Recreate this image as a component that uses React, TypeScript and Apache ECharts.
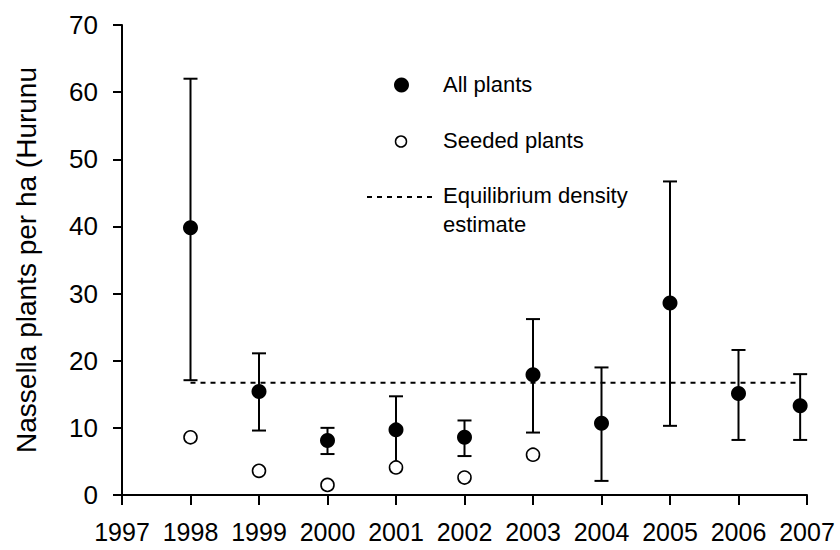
import React, { useEffect, useRef } from "react";
import * as echarts from "echarts";

const years = [1998, 1999, 2000, 2001, 2002, 2003, 2004, 2005, 2006, 2006.9];
const allPlants = [39.8, 15.4, 8.1, 9.7, 8.6, 17.9, 10.7, 28.6, 15.1, 13.3];
const allLower = [17.1, 9.6, 6.1, 4.1, 5.8, 9.3, 2.1, 10.3, 8.2, 8.2];
const allUpper = [62.0, 21.1, 10.0, 14.7, 11.1, 26.2, 19.0, 46.7, 21.6, 18.0];
const seededYears = [1998, 1999, 2000, 2001, 2002, 2003];
const seededPlants = [8.6, 3.6, 1.5, 4.1, 2.6, 6.0];
const equilibrium = 16.7;
const equilibriumRange = [1998, 2006.9];
const legendLabels = ["All plants", "Seeded plants", "Equilibrium density\nestimate"];
const yTitle = "Nassella plants per ha (Hurunu";

const FONT = "Arial, 'Liberation Sans', Helvetica, sans-serif";

export default function App() {
  const ref = useRef<HTMLDivElement>(null);
  useEffect(() => {
    document.body.style.margin = "0";
    const chart = echarts.init(ref.current!, undefined, { renderer: "svg" });
    chart.setOption({
      animation: false,
      backgroundColor: "#fff",
      grid: { left: 122, top: 25, right: 33, bottom: 55, containLabel: false, outerBoundsMode: "none" },
      xAxis: {
        type: "value",
        min: 1997,
        max: 2007,
        interval: 1,
        splitLine: { show: false },
        axisLine: { show: true, lineStyle: { color: "#000", width: 2 } },
        axisTick: { show: true, inside: false, length: 10, lineStyle: { color: "#000", width: 2 } },
        axisLabel: {
          color: "#000",
          fontSize: 25,
          fontFamily: FONT,
          margin: 24,
          hideOverlap: false,
          formatter: (v: number) => String(v),
        },
      },
      yAxis: {
        type: "value",
        min: 0,
        max: 70,
        interval: 10,
        splitLine: { show: false },
        axisLine: { show: true, lineStyle: { color: "#000", width: 2 } },
        axisTick: { show: true, inside: false, length: 9, lineStyle: { color: "#000", width: 2 } },
        axisLabel: { color: "#000", fontSize: 26, fontFamily: FONT, margin: 24 },
        name: yTitle,
        nameLocation: "middle",
        nameGap: 82,
        nameTextStyle: { color: "#000", fontSize: 28, fontFamily: FONT },
      },
      series: [
        {
          type: "line",
          data: equilibriumRange.map((x) => [x, equilibrium]),
          symbol: "none",
          lineStyle: { color: "#000", width: 2, type: [5, 5] },
          z: 1,
        },
        {
          type: "custom",
          data: years.map((x, i) => [x, allLower[i], allUpper[i]]),
          encode: { x: 0, y: [1, 2] },
          renderItem: (params: any, api: any) => {
            const x = api.value(0);
            const pLo = api.coord([x, api.value(1)]);
            const pHi = api.coord([x, api.value(2)]);
            const w = 7;
            const st = { stroke: "#000", lineWidth: 2 };
            return {
              type: "group",
              children: [
                { type: "line", shape: { x1: pHi[0], y1: pHi[1], x2: pLo[0], y2: pLo[1] }, style: st },
                { type: "line", shape: { x1: pHi[0] - w, y1: pHi[1], x2: pHi[0] + w, y2: pHi[1] }, style: st },
                { type: "line", shape: { x1: pLo[0] - w, y1: pLo[1], x2: pLo[0] + w, y2: pLo[1] }, style: st },
              ],
            };
          },
          z: 2,
        },
        {
          type: "scatter",
          data: years.map((x, i) => [x, allPlants[i]]),
          symbol: "circle",
          symbolSize: 15,
          itemStyle: { color: "#000", opacity: 1 },
          z: 3,
        },
        {
          type: "scatter",
          data: seededYears.map((x, i) => [x, seededPlants[i]]),
          symbol: "circle",
          symbolSize: 13,
          itemStyle: { color: "#fff", borderColor: "#000", borderWidth: 1.6, opacity: 1 },
          z: 4,
        },
      ],
      graphic: [
        { type: "circle", shape: { cx: 401.5, cy: 85, r: 7.5 }, style: { fill: "#000" } },
        { type: "circle", shape: { cx: 401, cy: 141.5, r: 5.5 }, style: { fill: "#fff", stroke: "#000", lineWidth: 1.5 } },
        { type: "line", shape: { x1: 367, y1: 197, x2: 436, y2: 197 }, style: { stroke: "#000", lineWidth: 2, lineDash: [5, 5] } },
        { type: "text", x: 443, y: 84, style: { text: legendLabels[0], fill: "#000", fontSize: 22, fontFamily: FONT, verticalAlign: "middle", align: "left" } },
        { type: "text", x: 443, y: 140, style: { text: legendLabels[1], fill: "#000", fontSize: 22, fontFamily: FONT, verticalAlign: "middle", align: "left" } },
        { type: "text", x: 443, y: 181, style: { text: legendLabels[2], fill: "#000", fontSize: 22, fontFamily: FONT, lineHeight: 29, verticalAlign: "top", align: "left" } },
      ],
    });
    return () => chart.dispose();
  }, []);
  return <div ref={ref} style={{ width: 840, height: 550 }} />;
}
